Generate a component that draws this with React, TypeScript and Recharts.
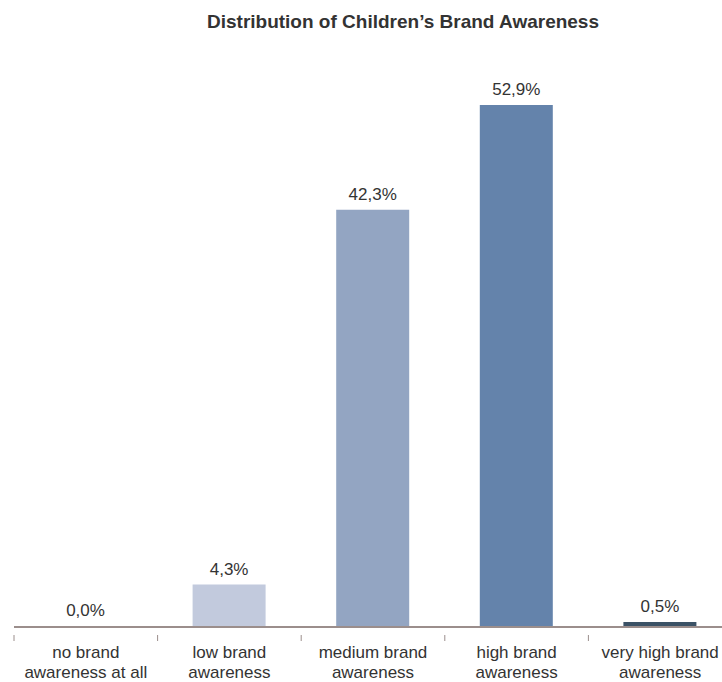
import React from 'react';
import { BarChart, Bar, XAxis, YAxis, Cell, LabelList } from 'recharts';

const categories = [
  'no brand|awareness at all',
  'low brand|awareness',
  'medium brand|awareness',
  'high brand|awareness',
  'very high brand|awareness',
];
const shares = [0.0, 4.3, 42.3, 52.9, 0.5];
const barColors = ['transparent', '#c2cadd', '#93a5c2', '#6483ab', '#3b5266'];

const data = categories.map((name, i) => ({ name, value: shares[i] }));

const CHART_W = 760;
const CHART_H = 682;
const MARGIN = { top: 35, right: 28, bottom: 0, left: 14 };
const BAND = (CHART_W - MARGIN.left - MARGIN.right) / categories.length;
const FONT = '"Liberation Sans", Arial, sans-serif';
const AXIS_COLOR = '#9b8e8c';

const CategoryTick = (props: any) => {
  const { x, y, payload } = props;
  const lines = String(payload.value).split('|');
  return (
    <g>
      <line x1={x - BAND / 2} y1={y} x2={x - BAND / 2} y2={y + 6} stroke={AXIS_COLOR} strokeWidth={1} />
      <text x={x} y={y + 23} textAnchor="middle" fontFamily={FONT} fontSize={17} fill="#333">
        {lines.map((l: string, i: number) => (
          <tspan key={i} x={x} dy={i === 0 ? 0 : 20}>
            {l}
          </tspan>
        ))}
      </text>
    </g>
  );
};

const fmt = (v: any) => `${Number(v).toFixed(1).replace('.', ',')}%`;

export default function App() {
  return (
    <div
      style={{
        position: 'absolute',
        left: 0,
        top: 0,
        width: 722,
        height: 682,
        overflow: 'hidden',
        background: '#fff',
      }}
    >
      <div
        style={{
          position: 'absolute',
          left: 0,
          width: 806,
          top: 11,
          textAlign: 'center',
          fontFamily: FONT,
          fontWeight: 'bold',
          fontSize: 19,
          color: '#333',
          whiteSpace: 'nowrap',
        }}
      >
        Distribution of Children’s Brand Awareness
      </div>
      <BarChart width={CHART_W} height={CHART_H} data={data} margin={MARGIN} barSize={73}>
        <XAxis
          dataKey="name"
          height={55}
          axisLine={{ stroke: AXIS_COLOR, strokeWidth: 2 }}
          tickLine={false}
          tick={<CategoryTick />}
          interval={0}
        />
        <YAxis hide domain={[0, 60]} />
        <Bar
          dataKey="value"
          isAnimationActive={false}
          minPointSize={(v: number) => (v === 0 ? 1 : 0)}
        >
          {data.map((d, i) => (
            <Cell key={d.name} fill={barColors[i]} />
          ))}
          <LabelList
            dataKey="value"
            position="top"
            offset={10}
            formatter={fmt}
            style={{ fontFamily: FONT, fontSize: 17, fill: '#333' }}
          />
        </Bar>
      </BarChart>
    </div>
  );
}
